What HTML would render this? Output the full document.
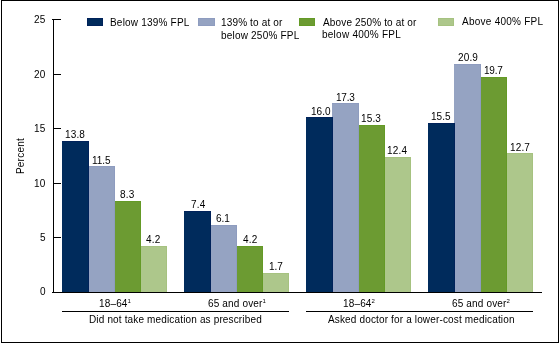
<!DOCTYPE html>
<html><head><meta charset="utf-8"><style>
html,body{margin:0;padding:0;background:#fff;}
body{width:560px;height:343px;position:relative;overflow:hidden;}
div{position:absolute;}
.t{font-family:"Liberation Sans", sans-serif;font-size:10px;line-height:10px;color:#000;white-space:nowrap;transform:translateZ(0);}
sup{font-size:6px;line-height:0;vertical-align:4px;}
</style></head><body>
<div style="left:1px;top:0;width:558px;height:343px;border:1px solid #000;box-sizing:border-box"></div>
<div style="left:141px;top:246px;width:26px;height:46px;background:#adc78b;box-shadow:inset -1px 1px 0 #a6c280"></div>
<div style="left:115px;top:201px;width:26px;height:91px;background:#6c9b32;box-shadow:inset -1px 1px 0 #649a26"></div>
<div style="left:88px;top:166px;width:27px;height:126px;background:#95a3c2;box-shadow:inset -1px 1px 0 #8e9cbf"></div>
<div style="left:62px;top:141px;width:27px;height:151px;background:#002b5c;box-shadow:inset -1px 1px 0 #00225a"></div>
<div style="left:263px;top:273px;width:26px;height:19px;background:#adc78b;box-shadow:inset -1px 1px 0 #a6c280"></div>
<div style="left:237px;top:246px;width:26px;height:46px;background:#6c9b32;box-shadow:inset -1px 1px 0 #649a26"></div>
<div style="left:210px;top:225px;width:27px;height:67px;background:#95a3c2;box-shadow:inset -1px 1px 0 #8e9cbf"></div>
<div style="left:184px;top:211px;width:27px;height:81px;background:#002b5c;box-shadow:inset -1px 1px 0 #00225a"></div>
<div style="left:385px;top:157px;width:26px;height:135px;background:#adc78b;box-shadow:inset -1px 1px 0 #a6c280"></div>
<div style="left:359px;top:125px;width:26px;height:167px;background:#6c9b32;box-shadow:inset -1px 1px 0 #649a26"></div>
<div style="left:332px;top:103px;width:27px;height:189px;background:#95a3c2;box-shadow:inset -1px 1px 0 #8e9cbf"></div>
<div style="left:306px;top:117px;width:27px;height:175px;background:#002b5c;box-shadow:inset -1px 1px 0 #00225a"></div>
<div style="left:507px;top:153px;width:26px;height:139px;background:#adc78b;box-shadow:inset -1px 1px 0 #a6c280"></div>
<div style="left:481px;top:77px;width:26px;height:215px;background:#6c9b32;box-shadow:inset -1px 1px 0 #649a26"></div>
<div style="left:454px;top:64px;width:27px;height:228px;background:#95a3c2;box-shadow:inset -1px 1px 0 #8e9cbf"></div>
<div style="left:428px;top:123px;width:27px;height:169px;background:#002b5c;box-shadow:inset -1px 1px 0 #00225a"></div>
<div style="left:53px;top:19px;width:1px;height:274px;background:#000;"></div>
<div style="left:53px;top:19px;width:8px;height:1px;background:#000;"></div>
<div style="left:53px;top:74px;width:8px;height:1px;background:#000;"></div>
<div style="left:53px;top:128px;width:8px;height:1px;background:#000;"></div>
<div style="left:53px;top:183px;width:8px;height:1px;background:#000;"></div>
<div style="left:53px;top:237px;width:8px;height:1px;background:#000;"></div>
<div style="left:52px;top:19px;width:1px;height:1px;background:#000;"></div>
<div style="left:52px;top:292px;width:490px;height:1px;background:#000;"></div>
<div class="t" style="left:34px;top:15px;letter-spacing:0.2px">25</div>
<div class="t" style="left:34px;top:70px;letter-spacing:0.2px">20</div>
<div class="t" style="left:34px;top:124px;letter-spacing:0.2px">15</div>
<div class="t" style="left:34px;top:179px;letter-spacing:0.2px">10</div>
<div class="t" style="left:40px;top:233px;letter-spacing:0.2px">5</div>
<div class="t" style="left:40px;top:287px;letter-spacing:0.2px">0</div>
<div class="t" style="left:65px;top:130px;letter-spacing:0.15px">13.8</div>
<div class="t" style="left:92px;top:156px;letter-spacing:-0.05px">11.5</div>
<div class="t" style="left:120px;top:190px;letter-spacing:0.2px">8.3</div>
<div class="t" style="left:146px;top:235px;letter-spacing:0.2px">4.2</div>
<div class="t" style="left:191px;top:200px;letter-spacing:0.2px">7.4</div>
<div class="t" style="left:216px;top:214px;letter-spacing:0.0px">6.1</div>
<div class="t" style="left:243px;top:235px;letter-spacing:0.2px">4.2</div>
<div class="t" style="left:269px;top:262px;letter-spacing:0.0px">1.7</div>
<div class="t" style="left:311px;top:107px;letter-spacing:0.05px">16.0</div>
<div class="t" style="left:336px;top:93px;letter-spacing:-0.2px">17.3</div>
<div class="t" style="left:361px;top:114px;letter-spacing:0.15px">15.3</div>
<div class="t" style="left:387px;top:146px;letter-spacing:0.2px">12.4</div>
<div class="t" style="left:431px;top:112px;letter-spacing:0.05px">15.5</div>
<div class="t" style="left:458px;top:53px;letter-spacing:0.15px">20.9</div>
<div class="t" style="left:484px;top:66px;letter-spacing:-0.2px">19.7</div>
<div class="t" style="left:510px;top:143px;letter-spacing:0.15px">12.7</div>
<div style="left:87px;top:18px;width:16px;height:8px;background:#002b5c;box-shadow:inset 0 0 0 1px #00225a"></div>
<div style="left:198px;top:18px;width:17px;height:8px;background:#95a3c2;box-shadow:inset 0 0 0 1px #8e9cbf"></div>
<div style="left:299px;top:18px;width:16px;height:8px;background:#6c9b32;box-shadow:inset 0 0 0 1px #649a26"></div>
<div style="left:438px;top:18px;width:16px;height:8px;background:#adc78b;box-shadow:inset 0 0 0 1px #a6c280"></div>
<div class="t" style="left:110px;top:18px;letter-spacing:0.2px">Below 139% FPL</div>
<div class="t" style="left:221px;top:18px;letter-spacing:0.15px">139% to at or</div>
<div class="t" style="left:221px;top:31px;letter-spacing:0.2px">below 250% FPL</div>
<div class="t" style="left:323px;top:18px;letter-spacing:0.15px">Above 250% to at or</div>
<div class="t" style="left:322px;top:30px;letter-spacing:0.25px">below 400% FPL</div>
<div class="t" style="left:462px;top:17px;letter-spacing:0.25px">Above 400% FPL</div>
<div class="t" style="left:99px;top:299px;letter-spacing:0.15px">18–64<sup>1</sup></div>
<div class="t" style="left:208px;top:299px;letter-spacing:0.15px">65 and over<sup>1</sup></div>
<div class="t" style="left:343px;top:299px;letter-spacing:0.15px">18–64<sup>2</sup></div>
<div class="t" style="left:452px;top:299px;letter-spacing:0.15px">65 and over<sup>2</sup></div>
<div class="t" style="left:89px;top:315px;letter-spacing:0.15px">Did not take medication as prescribed</div>
<div class="t" style="left:328px;top:315px;letter-spacing:0.15px">Asked doctor for a lower-cost medication</div>
<div style="left:62px;top:311px;width:227px;height:1px;background:#000;"></div>
<div style="left:306px;top:311px;width:227px;height:1px;background:#000;"></div>
<div class="t" style="left:1px;top:151px;width:40px;transform:rotate(-90deg) translateZ(0);text-align:center;letter-spacing:0.25px">Percent</div>
</body></html>
